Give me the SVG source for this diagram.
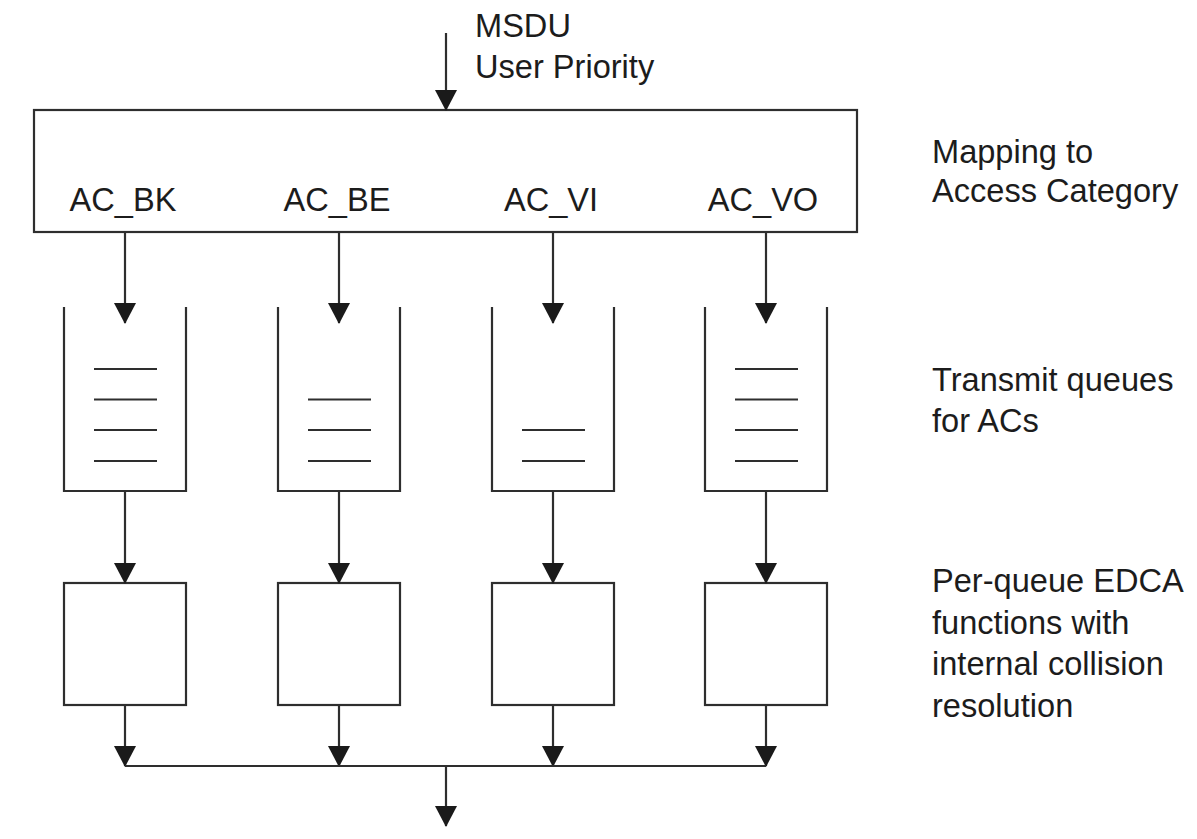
<svg xmlns="http://www.w3.org/2000/svg" width="1197" height="839" viewBox="0 0 1197 839">
<style>
.t{font-family:"Liberation Sans",Arial,sans-serif;font-size:32.6px;fill:#1c1c1c}
.s{fill:none;stroke:#2e2e2e;stroke-width:2.2}
.c{fill:none;stroke:#2e2e2e;stroke-width:2.2;marker-end:url(#ah)}
</style>
<defs>
<marker id="ah" markerUnits="userSpaceOnUse" markerWidth="23" markerHeight="23" refX="20" refY="11" orient="auto">
<path d="M0,0 L21,11 L0,22 z" fill="#1a1a1a"/>
</marker>
</defs>
<rect width="1197" height="839" fill="#fff"/>
<g id="input-label">
<text class="t" x="475" y="37">MSDU</text>
<text class="t" x="475" y="78">User Priority</text>
</g>
<g id="mapping">
<rect class="s" x="34" y="110" width="823" height="122"/>
<text class="t" x="123" y="211" text-anchor="middle">AC_BK</text>
<text class="t" x="337" y="211" text-anchor="middle">AC_BE</text>
<text class="t" x="551" y="211" text-anchor="middle">AC_VI</text>
<text class="t" x="763" y="211" text-anchor="middle">AC_VO</text>
</g>
<g id="queue-bk">
<path class="s" d="M64,307 V491 H186 V307"/>
<path class="s" d="M94,369 H157 M94,399.5 H157 M94,430 H157 M94,461 H157"/>
</g>
<g id="queue-be">
<path class="s" d="M278,307 V491 H400 V307"/>
<path class="s" d="M308,399.5 H371 M308,430 H371 M308,461 H371"/>
</g>
<g id="queue-vi">
<path class="s" d="M492,307 V491 H614 V307"/>
<path class="s" d="M522,430 H585 M522,461 H585"/>
</g>
<g id="queue-vo">
<path class="s" d="M705,307 V491 H827 V307"/>
<path class="s" d="M735,369 H798 M735,399.5 H798 M735,430 H798 M735,461 H798"/>
</g>
<g id="edca-bk"><rect class="s" x="64" y="583" width="122" height="122"/></g>
<g id="edca-be"><rect class="s" x="278" y="583" width="122" height="122"/></g>
<g id="edca-vi"><rect class="s" x="492" y="583" width="122" height="122"/></g>
<g id="edca-vo"><rect class="s" x="705" y="583" width="122" height="122"/></g>
<g id="side-labels">
<text class="t" x="932" y="163">Mapping to</text>
<text class="t" x="932" y="202">Access Category</text>
<text class="t" x="932" y="391">Transmit queues</text>
<text class="t" x="932" y="432">for ACs</text>
<text class="t" x="932" y="592">Per-queue EDCA</text>
<text class="t" x="932" y="634">functions with</text>
<text class="t" x="932" y="675">internal collision</text>
<text class="t" x="932" y="717">resolution</text>
</g>
<g id="connectors">
<path class="c" d="M446,33 V110"/>
<path class="c" d="M125,232 V323"/>
<path class="c" d="M339,232 V323"/>
<path class="c" d="M553,232 V323"/>
<path class="c" d="M766,232 V323"/>
<path class="c" d="M125,491 V583"/>
<path class="c" d="M339,491 V583"/>
<path class="c" d="M553,491 V583"/>
<path class="c" d="M766,491 V583"/>
<path class="c" d="M125,705 V766"/>
<path class="c" d="M339,705 V766"/>
<path class="c" d="M553,705 V766"/>
<path class="c" d="M766,705 V766"/>
<path class="s" d="M125,766 H766"/>
<path class="c" d="M446,766 V826"/>
</g>
</svg>
